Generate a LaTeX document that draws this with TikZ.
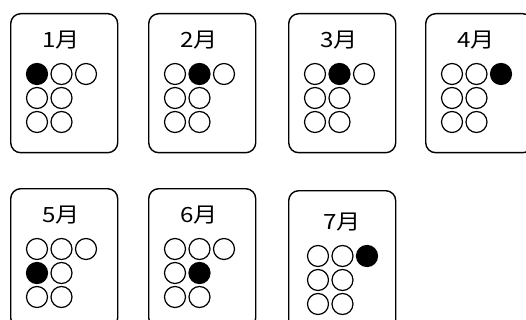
\documentclass[tikz,border=0pt]{standalone}
\usepackage{fontspec}
\newfontfamily\cjk{Noto Sans CJK JP}
\begin{document}
\begin{tikzpicture}[x=1pt,y=-1pt,
  card/.style={draw, line width=1.4pt, rounded corners=10pt, minimum width=107pt, minimum height=139pt, anchor=north west, inner sep=0pt},
  dot/.style={circle, draw, line width=1.2pt, minimum size=21pt, inner sep=0pt},
  on/.style={dot, fill=black},
  title/.style={font=\cjk\fontsize{21}{21}\selectfont, inner sep=0pt}]
\useasboundingbox (0,0) rectangle (526,320);
\clip (0,0) rectangle (526,320);
\foreach \n/\X/\Y/\f/\dx/\dy in {1/10/13/1/0/0, 2/148/13/2/0/0, 3/288/13/2/0/0, 4/425/13/3/0/0, 5/10/188/4/0/0, 6/148/188/5/0/0, 7/288/190/3/3/5}{
  \node[card] (card\n) at (\X,\Y) {};
  \node[title] (t\n) at (\X+51+\dx,\Y+27+\dy) {\scalebox{1.15}[1]{{\n}月}};
  \foreach \p/\i/\j in {1/0/0,2/0/1,3/0/2,4/1/0,5/1/1,6/2/0,7/2/1}{
    \ifnum\p=\f\relax\def\st{on}\else\def\st{dot}\fi
    \node[\st] (d\n-\p) at (\X+27+\dx+24.5*\j,\Y+61+\dy+24*\i) {};
  }
}
\end{tikzpicture}
\end{document}
